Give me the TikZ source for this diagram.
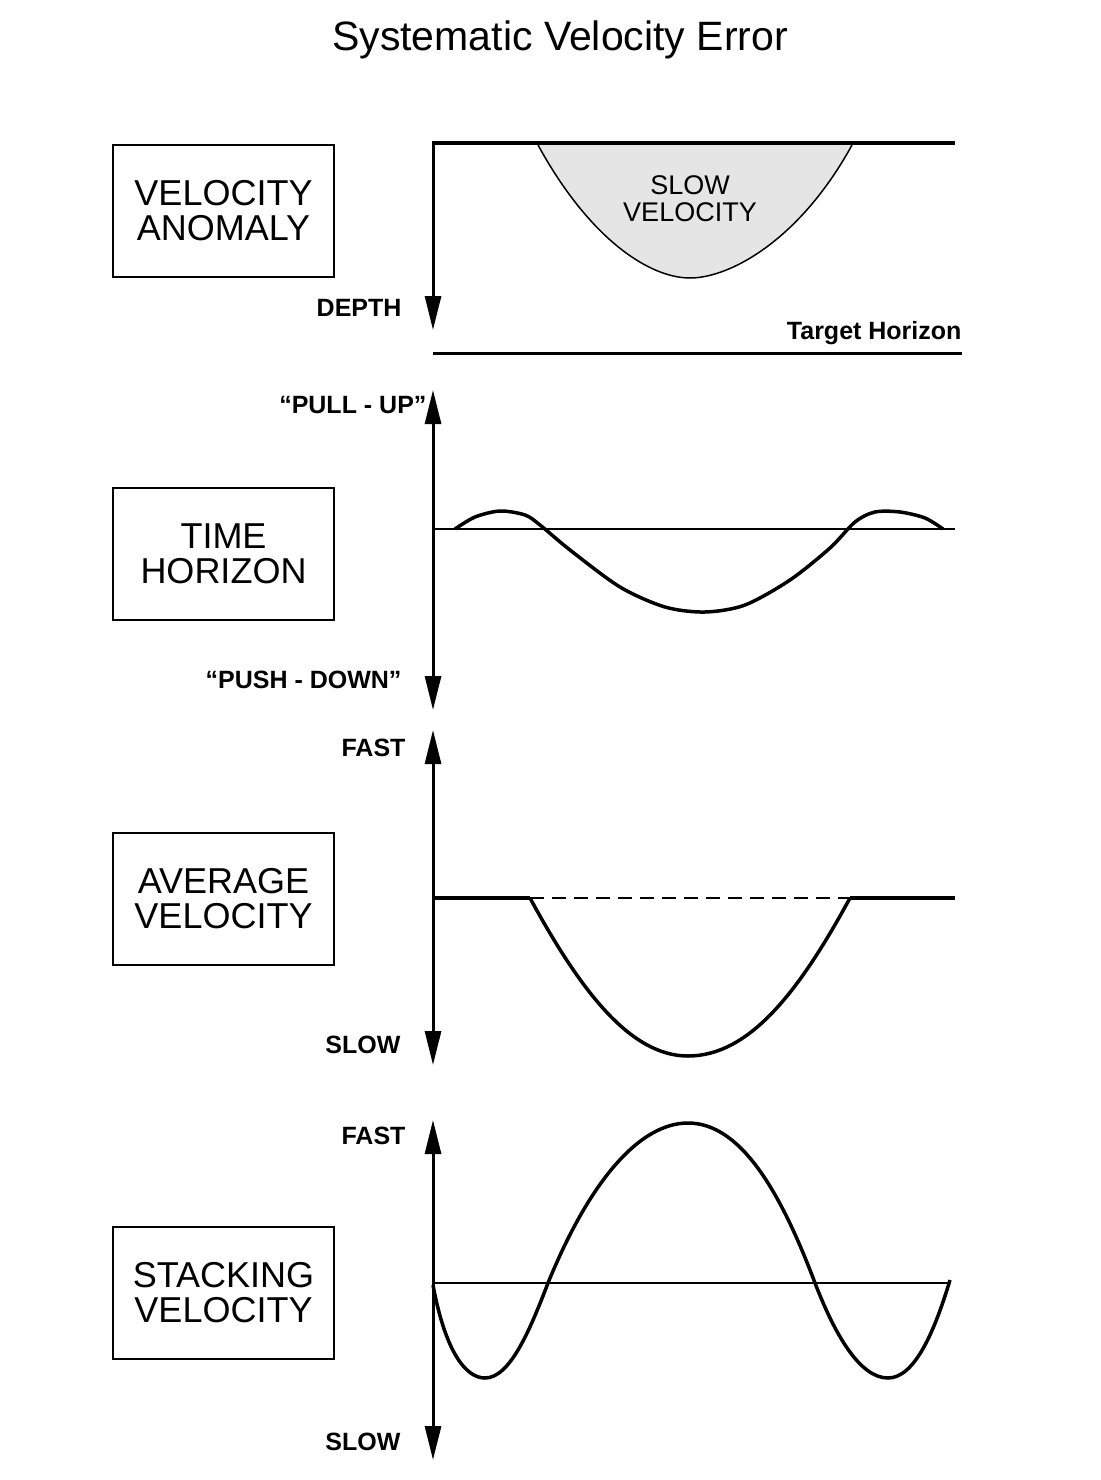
\documentclass[tikz,border=0pt]{standalone}
\usepackage{fontspec}
\setmainfont{Liberation Sans}
\usetikzlibrary{arrows.meta}
\begin{document}
\begin{tikzpicture}[x=1pt,y=-1pt,
  lbox/.style={draw,line width=2pt,minimum width=221pt,minimum height=132pt,align=center,font=\fontsize{36}{35}\selectfont,inner sep=0pt},
  lab/.style={font=\fontsize{25}{25}\selectfont\bfseries},
  axis/.style={line width=3pt,{Triangle[length=34pt,width=16pt]}-{Triangle[length=34pt,width=16pt]}},
  thick3/.style={line width=3.5pt},
  thin1/.style={line width=1.2pt}]
\useasboundingbox (0,0) rectangle (1100,1480);
\node[font=\fontsize{41}{41}\selectfont] (title) at (560,40) {Systematic Velocity Error};
% boxes
\node[lbox] (b1) at (223.5,211) {VELOCITY\\ANOMALY};
\node[lbox] (b2) at (223.5,554) {TIME\\HORIZON};
\node[lbox] (b3) at (223.5,899) {AVERAGE\\VELOCITY};
\node[lbox] (b4) at (223.5,1293) {STACKING\\VELOCITY};
% panel 1
\fill[gray!20] (538,145) .. controls (590,240) and (650,278) .. (690,278) .. controls (730,278) and (800,240) .. (852,145) -- cycle;
\draw[line width=1.5pt] (538,145) .. controls (590,240) and (650,278) .. (690,278) .. controls (730,278) and (800,240) .. (852,145);
\coordinate (p1t) at (433,143); \coordinate (p1b) at (433,330);
\draw[line width=3pt,-{Triangle[length=34pt,width=16pt]}] (p1t) -- (p1b);
\draw[thick3] (431.5,143) -- (955,143);
\node[font=\fontsize{27}{27}\selectfont,align=center] (sv) at (690,199) {SLOW\\VELOCITY};
\node[lab,anchor=east] (depth) at (405,308) {DEPTH};
\node[lab,anchor=east] (th) at (965,333) {Target Horizon};
\draw[line width=3pt] (433,353) -- (962,353);
% panel 2
\coordinate (a2t) at (433,390); \coordinate (a2b) at (433,710);
\draw[axis] (a2t) -- (a2b);
\node[lab,anchor=east] at (430,405) {``PULL - UP''};
\node[lab,anchor=east] at (405,680) {``PUSH - DOWN''};
\draw[thin1] (433,529) -- (955,529);
\draw[thick3,smooth] plot coordinates {(455,529) (475,517) (500,511) (525,515) (540,525) (570,550) (620,587) (665,607) (705,612) (745,605) (790,580) (830,548) (855,522) (875,512) (900,512) (925,518) (943,529)};
% panel 3
\draw[axis] (433,730) -- (433,1065);
\node[lab,anchor=east] at (409,748) {FAST};
\node[lab,anchor=east] at (404,1045) {SLOW};
\draw[thick3] (433,898) -- (530,898);
\draw[thick3] (850,898) -- (955,898);
\draw[line width=1.2pt,dash pattern=on 14pt off 8pt] (530,898) -- (850,898);
\draw[thick3] (530,898) .. controls (580,990) and (630,1056) .. (688,1056) .. controls (750,1056) and (800,990) .. (850,898);
% panel 4
\draw[axis] (433,1120) -- (433,1460);
\node[lab,anchor=east] at (409,1136) {FAST};
\node[lab,anchor=east] at (404,1442) {SLOW};
\draw[thin1] (433,1283) -- (950,1283);
\draw[thick3] (433,1285) .. controls (445,1350) and (465,1378) .. (485,1378) .. controls (510,1378) and (530,1330) .. (548,1283)
  .. controls (590,1180) and (640,1123) .. (688,1123) .. controls (740,1123) and (780,1190) .. (815,1283)
  .. controls (835,1335) and (860,1378) .. (888,1378) .. controls (915,1378) and (935,1330) .. (950,1280);
\end{tikzpicture}
\end{document}
